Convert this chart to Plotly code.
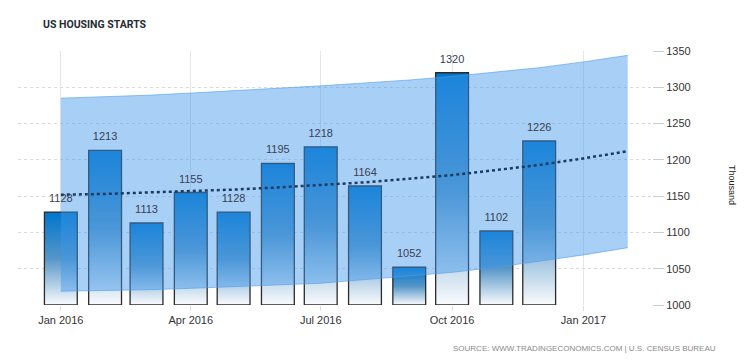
import plotly.graph_objects as go
import pandas as pd

# ---- data ----
months = ["2016-01-01", "2016-02-01", "2016-03-01", "2016-04-01", "2016-05-01", "2016-06-01",
          "2016-07-01", "2016-08-01", "2016-09-01", "2016-10-01", "2016-11-01", "2016-12-01"]
starts = [1128, 1213, 1113, 1155, 1128, 1195, 1218, 1164, 1052, 1320, 1102, 1226]

band_months = ["2016-01-01", "2016-02-01", "2016-03-01", "2016-04-01", "2016-05-01", "2016-06-01",
               "2016-07-01", "2016-08-01", "2016-09-01", "2016-10-01", "2016-11-01", "2016-12-01",
               "2017-01-01", "2017-02-01"]
band_upper = [1285, 1287, 1289, 1292, 1295, 1298, 1302, 1306, 1310, 1315, 1321, 1327, 1335, 1344]
band_lower = [1019, 1020, 1021, 1023, 1025, 1027, 1030, 1035, 1040, 1045, 1052, 1060, 1069, 1079]
trend = [1152, 1153, 1155, 1157, 1159, 1162, 1165, 1169, 1174, 1179, 1186, 1193, 1202, 1212]

tick_dates = ["2016-01-01", "2016-04-01", "2016-07-01", "2016-10-01", "2017-01-01"]
tick_labels = ["Jan 2016", "Apr 2016", "Jul 2016", "Oct 2016", "Jan 2017"]

title_text = "US HOUSING STARTS"
source_text = "SOURCE: WWW.TRADINGECONOMICS.COM | U.S. CENSUS BUREAU"
unit_text = "Thousand"

FONT = "Liberation Sans, Arial, sans-serif"
BASE = 1000

# page has an 8px body margin: figure sits at (8,8)
PW, PH = 742, 356
PL, PT, PR, PB = 18, 51, 652, 305  # plot area in page pixels
def px(x):
    return (x - PL) / (PR - PL)
def py(y):
    return (PB - y) / (PB - PT)

fig = go.Figure()

# bars with vertical gradient (drawn as filled shapes)
half = pd.Timedelta(days=11.5)
for m, v in zip(months, starts):
    d = pd.Timestamp(m)
    xs = [d - half, d - half, d + half, d + half, d - half]
    ys = [BASE, v, v, BASE, BASE]
    fig.add_trace(go.Scatter(
        x=xs, y=ys, mode="lines", fill="toself",
        fillgradient=dict(type="vertical", start=BASE, stop=v,
                          colorscale=[[0, "rgb(250,251,253)"],
                                      [0.5, "rgb(85,150,200)"],
                                      [1, "rgb(0,118,205)"]]),
        line=dict(color="#2b2b2b", width=1.3),
        hoverinfo="skip", showlegend=False))

# confidence band
fig.add_trace(go.Scatter(
    x=band_months, y=band_upper, mode="lines",
    line=dict(color="rgba(80,155,235,0.6)", width=1),
    hoverinfo="skip", showlegend=False))
fig.add_trace(go.Scatter(
    x=band_months, y=band_lower, mode="lines", fill="tonexty",
    fillcolor="rgba(62,151,235,0.45)",
    line=dict(color="rgba(80,155,235,0.6)", width=1),
    hoverinfo="skip", showlegend=False))

# trend line
fig.add_trace(go.Scatter(
    x=band_months, y=trend, mode="lines",
    line=dict(color="#1c3a60", width=2.5, dash="dot"),
    hoverinfo="skip", showlegend=False))

# value labels
fig.add_trace(go.Scatter(
    x=months, y=starts, mode="markers+text", text=[str(v) for v in starts],
    textposition="top center",
    marker=dict(size=10, color="rgba(0,0,0,0)"),
    textfont=dict(family=FONT, size=11, color="#3a3f55"),
    hoverinfo="skip", showlegend=False))

fig.update_layout(
    width=PW, height=PH,
    margin=dict(l=PL - 8, r=PW - (PR - 8), t=PT - 8, b=PH - (PB - 8)),
    paper_bgcolor="white", plot_bgcolor="white",
    font=dict(family=FONT, size=11, color="#333"),
    xaxis=dict(
        type="date", range=["2015-12-02", "2017-02-18"],
        tickvals=tick_dates, ticktext=tick_labels,
        showgrid=True, gridcolor="#e6e6e6", gridwidth=1,
        ticks="outside", ticklen=5, tickcolor="#dddddd",
        showline=False, zeroline=False,
        tickfont=dict(family=FONT, size=11, color="#333"),
    ),
    yaxis=dict(
        side="right", range=[1000, 1350], dtick=50,
        showgrid=True, gridcolor="#dadada", griddash="dot",
        ticks="outside", ticklen=11, tickcolor="#cccccc",
        showline=False, zeroline=False,
        tickfont=dict(family=FONT, size=11, color="#333"),
    ),
    annotations=[
        dict(text=title_text, xref="paper", yref="paper", x=px(41), y=py(25),
             xanchor="left", yanchor="middle", showarrow=False,
             font=dict(family="Roboto, sans-serif", size=10.5, weight="bold", color="#2a2a33")),
        dict(text=source_text, xref="paper", yref="paper", x=px(718), y=py(348),
             xanchor="right", yanchor="middle", showarrow=False,
             font=dict(family=FONT, size=8, color="#8a8a8a")),
        dict(text=unit_text, xref="paper", yref="paper", x=px(732), y=py(185),
             xanchor="center", yanchor="middle", showarrow=False, textangle=90,
             font=dict(family=FONT, size=9, color="#222")),
    ],
)

fig.write_html("out.html")
